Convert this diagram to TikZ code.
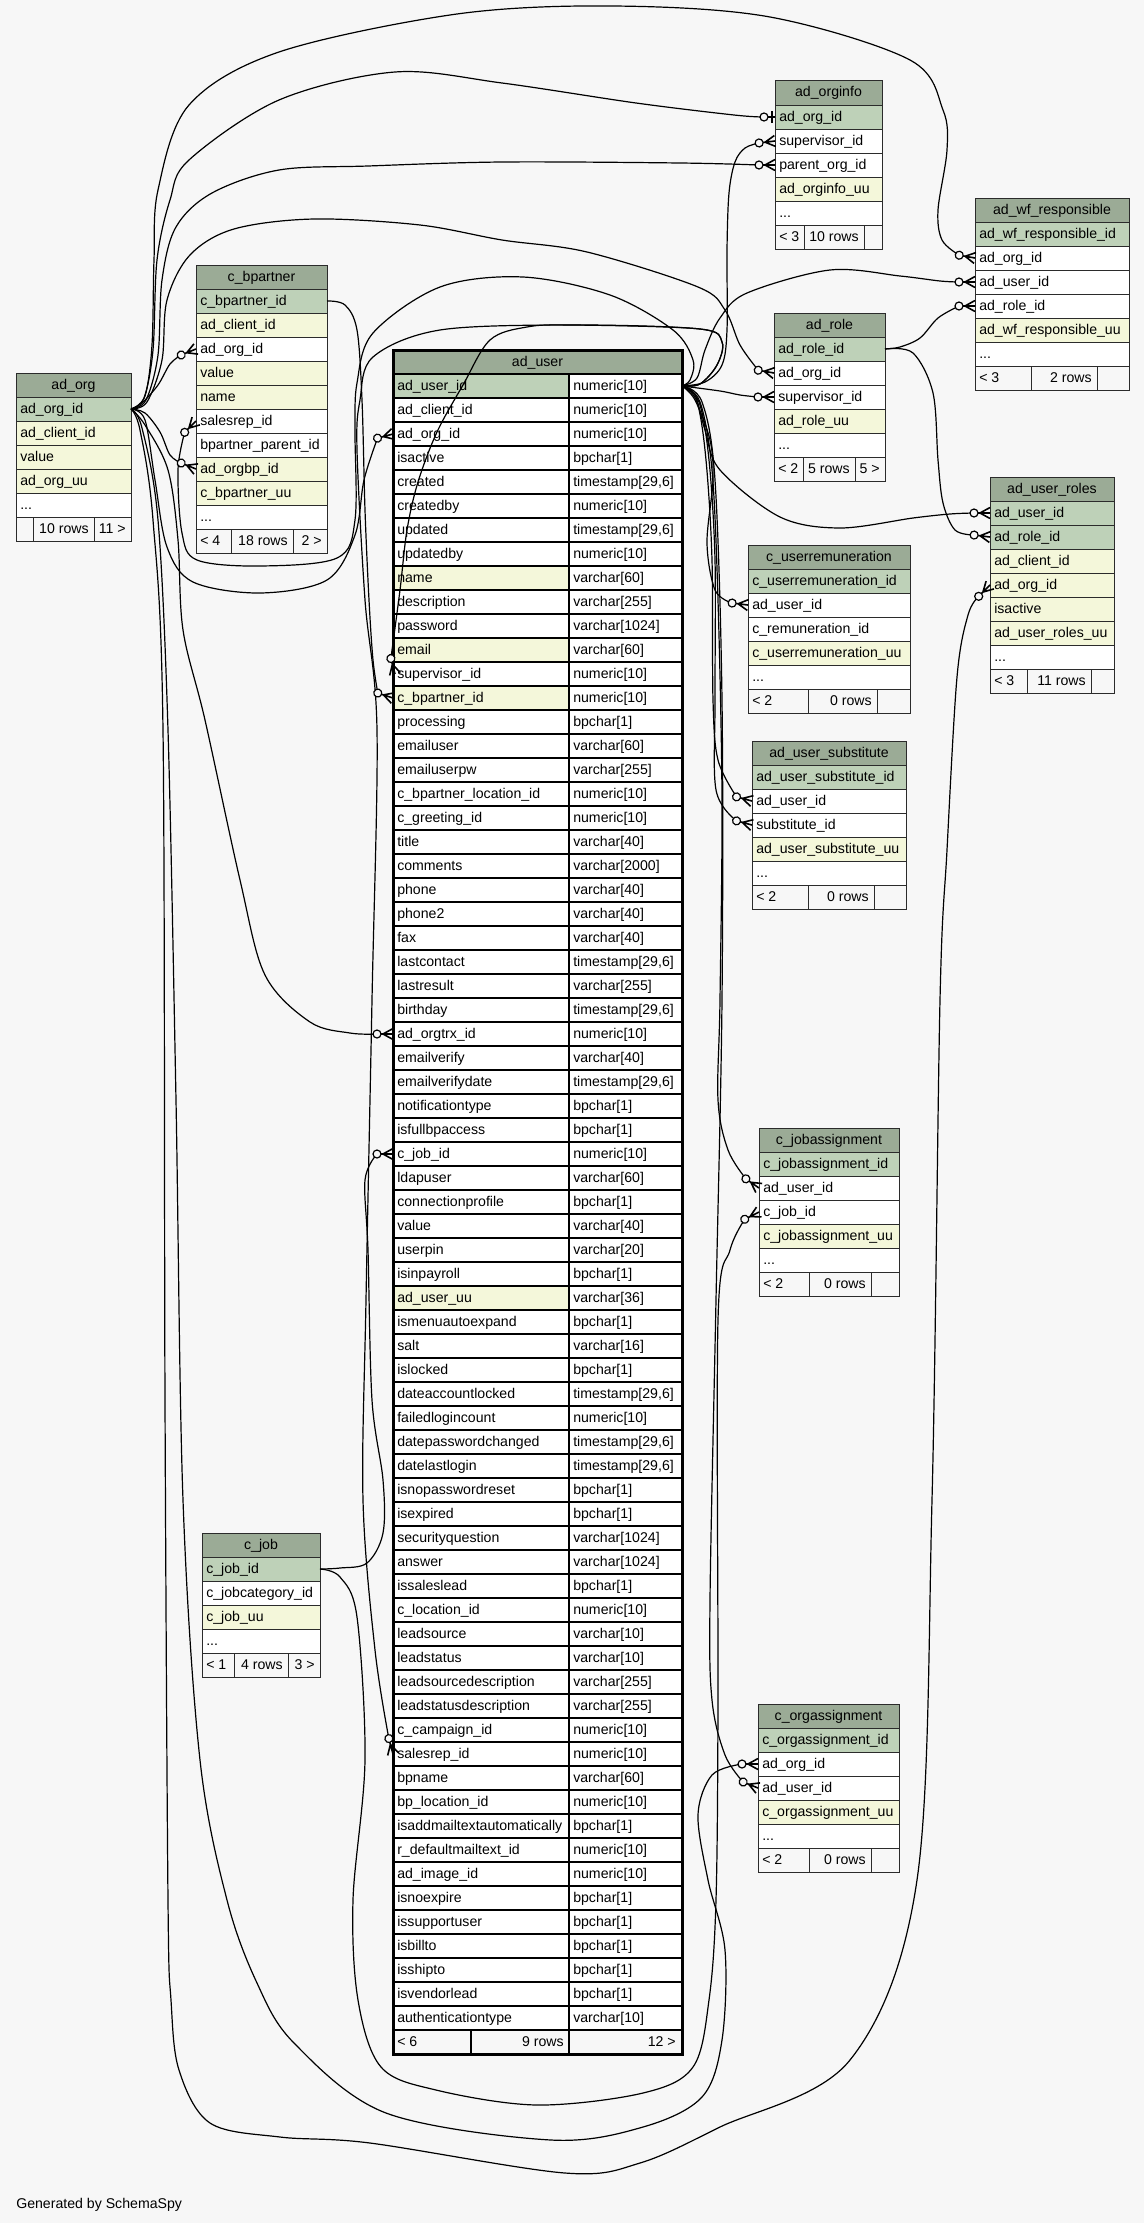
\documentclass[tikz,border=0pt]{standalone}
\usepackage{fontspec}
\setmainfont{Liberation Sans}
\definecolor{hdrc}{HTML}{9BAB96}
\definecolor{pkc}{HTML}{BED1B8}
\definecolor{idxc}{HTML}{F4F7DA}
\definecolor{bgc}{HTML}{F7F7F7}
\definecolor{linec}{HTML}{2B2B2B}
\newcommand\tblfont{\fontsize{10.6}{12}\selectfont}
\newcommand\tab[5]{\def\TA{#2}\def\TB{#3}\def\TY{#4}%
  \filldraw[cell,fill=hdrc] (#2,#4) rectangle (#3,#4+24);
  \node[ht] (#1-h) at ({(#2+#3)/2},#4+16) {#5};}
\newcommand\trow[4]{%
  \filldraw[cell,fill=#3] (\TA,\TY+24*#2) rectangle (\TB,\TY+24*#2+24);
  \node[rt] (#1-#2) at (\TA+4,\TY+24*#2+16) {#4};}
\newcommand\tfoot[7]{%
  \filldraw[cell,fill=bgc] (\TA,\TY+24*#2) rectangle (#3,\TY+24*#2+24);
  \filldraw[cell,fill=bgc] (#3,\TY+24*#2) rectangle (#4,\TY+24*#2+24);
  \filldraw[cell,fill=bgc] (#4,\TY+24*#2) rectangle (\TB,\TY+24*#2+24);
  \node[rt] (#1-fl) at (\TA+4,\TY+24*#2+16) {#5};
  \node[rt,anchor=base east] (#1-fm) at (#4-5,\TY+24*#2+16) {#6};
  \node[rt,anchor=base east] (#1-fr) at (\TB-5,\TY+24*#2+16) {#7};}
\newcommand\urow[4]{%
  \filldraw[ucell,fill=#4] (393,374+24*#1) rectangle (569,398+24*#1);
  \filldraw[ucell,fill=white] (569,374+24*#1) rectangle (682,398+24*#1);
  \node[rt] (un-#1) at (397,390+24*#1) {#2};
  \node[rt] (ut-#1) at (573,390+24*#1) {#3};}
\newcommand\crowA[4]{\begin{scope}[shift={(#2,#3)},rotate=#4]\coordinate (#1) at (-16,0);\end{scope}}
\newcommand\crowB[4]{\begin{scope}[shift={(#2,#3)},rotate=#4]
  \draw[crowline] (-10,0)--(0,-5.5) (-10,0)--(0,0) (-10,0)--(0,5.5) (-12,0)--(-10,0);
  \filldraw[edge,fill=bgc] (-16,0) circle (4);\end{scope}}
\newcommand\crowlist{%
 \crow{k1}{196}{349}{22}
 \crow{k2}{196}{469}{-22}
 \crow{k3}{393}{434}{15}
 \crow{k4}{393}{1034}{0}
 \crow{k5}{758}{1764}{0}
 \crow{k6}{990}{585}{45}
 \crow{k8}{775}{165}{0}
 \crow{k9}{975}{258}{-10}
 \crow{k10}{774}{373}{-10}
 \crow{k11}{196}{421}{45}
 \crow{k12}{393}{1754}{-75}
 \crow{k13}{395}{674}{-75}
 \crow{k14}{775}{141}{7}
 \crow{k15}{393}{698}{-18}
 \crow{k16}{975}{282}{0}
 \crow{k17}{774}{397}{0}
 \crow{k18}{990}{513}{0}
 \crow{k19}{748}{605}{-7}
 \crow{k20}{752}{801}{-15}
 \crow{k21}{752}{825}{-15}
 \crow{k22}{759}{1188}{-35}
 \crow{k23}{758}{1788}{-22}
 \crow{k24}{975}{306}{0}
 \crow{k25}{990}{537}{-7}
 \crow{k26}{393}{1154}{0}
 \crow{k27}{759}{1212}{27}
}
\begin{document}
\begin{tikzpicture}[x=0.75pt,y=-0.75pt,
  cell/.style={draw=linec,line width=0.75pt},
  ucell/.style={draw=black,line width=1pt},
  rt/.style={anchor=base west,inner sep=0pt,font=\tblfont,text=black},
  ht/.style={anchor=base,inner sep=0pt,font=\tblfont,text=black},
  edge/.style={draw=black,line width=0.9pt},
  crowline/.style={draw=black,line width=1.2pt},
  sm/.style={smooth,tension=0.55}]
\fill[bgc] (0,0) rectangle (1144,2223);
\useasboundingbox (0,0) rectangle (1144,2223);

% ad_org
\tab{adorg}{16}{131}{373}{ad\_org}
\trow{adorg}{1}{pkc}{ad\_org\_id}
\trow{adorg}{2}{idxc}{ad\_client\_id}
\trow{adorg}{3}{idxc}{value}
\trow{adorg}{4}{idxc}{ad\_org\_uu}
\trow{adorg}{5}{white}{...}
\tfoot{adorg}{6}{33}{94}{}{10 rows}{11 >}

% c_bpartner
\tab{bp}{196}{327}{265}{c\_bpartner}
\trow{bp}{1}{pkc}{c\_bpartner\_id}
\trow{bp}{2}{idxc}{ad\_client\_id}
\trow{bp}{3}{white}{ad\_org\_id}
\trow{bp}{4}{idxc}{value}
\trow{bp}{5}{idxc}{name}
\trow{bp}{6}{white}{salesrep\_id}
\trow{bp}{7}{white}{bpartner\_parent\_id}
\trow{bp}{8}{idxc}{ad\_orgbp\_id}
\trow{bp}{9}{idxc}{c\_bpartner\_uu}
\trow{bp}{10}{white}{...}
\tfoot{bp}{11}{231}{293}{< 4}{18 rows}{2 >}

% ad_orginfo
\tab{oi}{775}{882}{81}{ad\_orginfo}
\trow{oi}{1}{pkc}{ad\_org\_id}
\trow{oi}{2}{white}{supervisor\_id}
\trow{oi}{3}{white}{parent\_org\_id}
\trow{oi}{4}{idxc}{ad\_orginfo\_uu}
\trow{oi}{5}{white}{...}
\tfoot{oi}{6}{804}{864}{< 3}{10 rows}{}

% ad_wf_responsible
\tab{wf}{975}{1129}{198}{ad\_wf\_responsible}
\trow{wf}{1}{pkc}{ad\_wf\_responsible\_id}
\trow{wf}{2}{white}{ad\_org\_id}
\trow{wf}{3}{white}{ad\_user\_id}
\trow{wf}{4}{white}{ad\_role\_id}
\trow{wf}{5}{idxc}{ad\_wf\_responsible\_uu}
\trow{wf}{6}{white}{...}
\tfoot{wf}{7}{1031}{1097}{< 3}{2 rows}{}

% ad_role
\tab{role}{774}{885}{313}{ad\_role}
\trow{role}{1}{pkc}{ad\_role\_id}
\trow{role}{2}{white}{ad\_org\_id}
\trow{role}{3}{white}{supervisor\_id}
\trow{role}{4}{idxc}{ad\_role\_uu}
\trow{role}{5}{white}{...}
\tfoot{role}{6}{803}{855}{< 2}{5 rows}{5 >}

% ad_user_roles
\tab{ur}{990}{1114}{477}{ad\_user\_roles}
\trow{ur}{1}{pkc}{ad\_user\_id}
\trow{ur}{2}{pkc}{ad\_role\_id}
\trow{ur}{3}{idxc}{ad\_client\_id}
\trow{ur}{4}{idxc}{ad\_org\_id}
\trow{ur}{5}{idxc}{isactive}
\trow{ur}{6}{idxc}{ad\_user\_roles\_uu}
\trow{ur}{7}{white}{...}
\tfoot{ur}{8}{1027}{1091}{< 3}{11 rows}{}

% c_userremuneration
\tab{rem}{748}{910}{545}{c\_userremuneration}
\trow{rem}{1}{pkc}{c\_userremuneration\_id}
\trow{rem}{2}{white}{ad\_user\_id}
\trow{rem}{3}{white}{c\_remuneration\_id}
\trow{rem}{4}{idxc}{c\_userremuneration\_uu}
\trow{rem}{5}{white}{...}
\tfoot{rem}{6}{808}{877}{< 2}{0 rows}{}

% ad_user_substitute
\tab{sub}{752}{906}{741}{ad\_user\_substitute}
\trow{sub}{1}{pkc}{ad\_user\_substitute\_id}
\trow{sub}{2}{white}{ad\_user\_id}
\trow{sub}{3}{white}{substitute\_id}
\trow{sub}{4}{idxc}{ad\_user\_substitute\_uu}
\trow{sub}{5}{white}{...}
\tfoot{sub}{6}{808}{874}{< 2}{0 rows}{}

% c_jobassignment
\tab{ja}{759}{899}{1128}{c\_jobassignment}
\trow{ja}{1}{pkc}{c\_jobassignment\_id}
\trow{ja}{2}{white}{ad\_user\_id}
\trow{ja}{3}{white}{c\_job\_id}
\trow{ja}{4}{idxc}{c\_jobassignment\_uu}
\trow{ja}{5}{white}{...}
\tfoot{ja}{6}{809}{871}{< 2}{0 rows}{}

% c_orgassignment
\tab{oa}{758}{899}{1704}{c\_orgassignment}
\trow{oa}{1}{pkc}{c\_orgassignment\_id}
\trow{oa}{2}{white}{ad\_org\_id}
\trow{oa}{3}{white}{ad\_user\_id}
\trow{oa}{4}{idxc}{c\_orgassignment\_uu}
\trow{oa}{5}{white}{...}
\tfoot{oa}{6}{809}{871}{< 2}{0 rows}{}

% c_job
\tab{job}{202}{320}{1533}{c\_job}
\trow{job}{1}{pkc}{c\_job\_id}
\trow{job}{2}{white}{c\_jobcategory\_id}
\trow{job}{3}{idxc}{c\_job\_uu}
\trow{job}{4}{white}{...}
\tfoot{job}{5}{234}{288}{< 1}{4 rows}{3 >}

% ad_user
\filldraw[ucell,fill=hdrc] (393,350) rectangle (682,374);
\node[ht] (user-h) at (537.5,366) {ad\_user};
\urow{0}{ad\_user\_id}{numeric[10]}{pkc}
\urow{1}{ad\_client\_id}{numeric[10]}{white}
\urow{2}{ad\_org\_id}{numeric[10]}{white}
\urow{3}{isactive}{bpchar[1]}{white}
\urow{4}{created}{timestamp[29,6]}{white}
\urow{5}{createdby}{numeric[10]}{white}
\urow{6}{updated}{timestamp[29,6]}{white}
\urow{7}{updatedby}{numeric[10]}{white}
\urow{8}{name}{varchar[60]}{idxc}
\urow{9}{description}{varchar[255]}{white}
\urow{10}{password}{varchar[1024]}{white}
\urow{11}{email}{varchar[60]}{idxc}
\urow{12}{supervisor\_id}{numeric[10]}{white}
\urow{13}{c\_bpartner\_id}{numeric[10]}{idxc}
\urow{14}{processing}{bpchar[1]}{white}
\urow{15}{emailuser}{varchar[60]}{white}
\urow{16}{emailuserpw}{varchar[255]}{white}
\urow{17}{c\_bpartner\_location\_id}{numeric[10]}{white}
\urow{18}{c\_greeting\_id}{numeric[10]}{white}
\urow{19}{title}{varchar[40]}{white}
\urow{20}{comments}{varchar[2000]}{white}
\urow{21}{phone}{varchar[40]}{white}
\urow{22}{phone2}{varchar[40]}{white}
\urow{23}{fax}{varchar[40]}{white}
\urow{24}{lastcontact}{timestamp[29,6]}{white}
\urow{25}{lastresult}{varchar[255]}{white}
\urow{26}{birthday}{timestamp[29,6]}{white}
\urow{27}{ad\_orgtrx\_id}{numeric[10]}{white}
\urow{28}{emailverify}{varchar[40]}{white}
\urow{29}{emailverifydate}{timestamp[29,6]}{white}
\urow{30}{notificationtype}{bpchar[1]}{white}
\urow{31}{isfullbpaccess}{bpchar[1]}{white}
\urow{32}{c\_job\_id}{numeric[10]}{white}
\urow{33}{ldapuser}{varchar[60]}{white}
\urow{34}{connectionprofile}{bpchar[1]}{white}
\urow{35}{value}{varchar[40]}{white}
\urow{36}{userpin}{varchar[20]}{white}
\urow{37}{isinpayroll}{bpchar[1]}{white}
\urow{38}{ad\_user\_uu}{varchar[36]}{idxc}
\urow{39}{ismenuautoexpand}{bpchar[1]}{white}
\urow{40}{salt}{varchar[16]}{white}
\urow{41}{islocked}{bpchar[1]}{white}
\urow{42}{dateaccountlocked}{timestamp[29,6]}{white}
\urow{43}{failedlogincount}{numeric[10]}{white}
\urow{44}{datepasswordchanged}{timestamp[29,6]}{white}
\urow{45}{datelastlogin}{timestamp[29,6]}{white}
\urow{46}{isnopasswordreset}{bpchar[1]}{white}
\urow{47}{isexpired}{bpchar[1]}{white}
\urow{48}{securityquestion}{varchar[1024]}{white}
\urow{49}{answer}{varchar[1024]}{white}
\urow{50}{issaleslead}{bpchar[1]}{white}
\urow{51}{c\_location\_id}{numeric[10]}{white}
\urow{52}{leadsource}{varchar[10]}{white}
\urow{53}{leadstatus}{varchar[10]}{white}
\urow{54}{leadsourcedescription}{varchar[255]}{white}
\urow{55}{leadstatusdescription}{varchar[255]}{white}
\urow{56}{c\_campaign\_id}{numeric[10]}{white}
\urow{57}{salesrep\_id}{numeric[10]}{white}
\urow{58}{bpname}{varchar[60]}{white}
\urow{59}{bp\_location\_id}{numeric[10]}{white}
\urow{60}{isaddmailtextautomatically}{bpchar[1]}{white}
\urow{61}{r\_defaultmailtext\_id}{numeric[10]}{white}
\urow{62}{ad\_image\_id}{numeric[10]}{white}
\urow{63}{isnoexpire}{bpchar[1]}{white}
\urow{64}{issupportuser}{bpchar[1]}{white}
\urow{65}{isbillto}{bpchar[1]}{white}
\urow{66}{isshipto}{bpchar[1]}{white}
\urow{67}{isvendorlead}{bpchar[1]}{white}
\urow{68}{authenticationtype}{varchar[10]}{white}
\filldraw[ucell,fill=bgc] (393,2030) rectangle (471,2054);
\filldraw[ucell,fill=bgc] (471,2030) rectangle (569,2054);
\filldraw[ucell,fill=bgc] (569,2030) rectangle (682,2054);
\node[rt] (user-fl) at (397,2046) {< 6};
\node[rt,anchor=base east] (user-fm) at (564,2046) {9 rows};
\node[rt,anchor=base east] (user-fr) at (676,2046) {12 >};
\draw[black,line width=2.25pt] (393,350) rectangle (682,2054);

% ports
\coordinate (Porg) at (131,409);
\coordinate (Puser) at (682,386);
\coordinate (Pbp) at (327,301);
\coordinate (Prole) at (885,349);
\coordinate (Pjob) at (320,1569);
\coordinate (k7) at (764,117);
\let\crow\crowA \crowlist

% connectors
\draw[edge] plot[sm] coordinates {(Porg) (142,403) (158,385) (170,364) (k1)};
\draw[edge] plot[sm] coordinates {(Porg) (145,413) (160,432) (170,455) (k2)};
\draw[edge] plot[sm] coordinates {(Porg) (145,420) (155,480) (167,547) (193,582) (260,593) (327,580) (355,535) (364,480) (k3)};
\draw[edge] plot[sm] coordinates {(Porg) (145,425) (168,470) (178,540) (183,630) (205,720) (240,880) (265,975) (310,1022) (350,1033) (k4)};
\draw[edge] plot[sm] coordinates {(Porg) (142,428) (158,520) (168,730) (176,1100) (183,1500) (200,1760) (227,1900) (257,1983) (294,2043) (386,2113) (551,2140) (643,2127) (702,2097) (722,2040) (725,1950) (708,1880) (698,1815) (712,1775) (k5)};
\draw[edge] plot[sm] coordinates {(Porg) (140,430) (153,520) (163,730) (165,1400) (168,1900) (171,2000) (179,2070) (210,2123) (280,2137) (370,2143) (565,2173) (640,2163) (720,2127) (850,2060) (917,1880) (932,1500) (940,1000) (947,850) (957,677) (968,615) (k6)};
\draw[edge] plot[sm] coordinates {(Porg) (144,398) (153,350) (157,260) (170,200) (189,160) (279,100) (395,72) (502,83) (636,103) (734,115) (k7)};
\draw[edge] plot[sm] coordinates {(Porg) (146,400) (158,355) (162,280) (176,227) (212,193) (279,170) (368,166) (502,162) (680,163) (k8)};
\draw[edge] plot[sm] coordinates {(Porg) (145,396) (152,345) (154,260) (158,190) (189,105) (279,52) (457,14) (613,6) (770,17) (910,60) (943,110) (947,150) (938,210) (942,240) (k9)};
\draw[edge] plot[sm] coordinates {(Porg) (147,402) (162,360) (167,300) (190,255) (234,229) (314,219) (420,225) (502,240) (587,252) (698,287) (725,310) (740,345) (k10)};
\draw[edge] plot[sm] coordinates {(Puser) (690,380) (693,360) (673,330) (610,295) (523,277) (440,287) (373,333) (357,383) (355,430) (355,520) (337,558) (260,566) (197,560) (182,533) (178,470) (k11)};
\draw[edge] plot[sm] coordinates {(Puser) (700,384) (717,365) (722,342) (700,329) (573,325) (440,330) (373,357) (360,400) (357,450) (365,600) (377,730) (372,1000) (366,1300) (363,1500) (375,1650) (k12)};
\draw[edge] plot[sm] coordinates {(Puser) (700,384) (717,365) (722,342) (700,329) (573,325) (527,327) (490,340) (463,385) (437,432) (418,482) (407,530) (400,590) (k13)};
\draw[edge] plot[sm] coordinates {(Puser) (705,382) (722,365) (727,330) (727,250) (729,193) (735,162) (745,148) (k14)};
\draw[edge] plot[sm] coordinates {(Pbp) (345,305) (357,330) (362,400) (365,510) (369,600) (373,660) (k15)};
\draw[edge] plot[sm] coordinates {(Puser) (697,378) (705,350) (720,318) (747,293) (830,270) (900,276) (940,281) (k16)};
\draw[edge] plot[sm] coordinates {(Puser) (720,391) (740,395) (k17)};
\draw[edge] plot[sm] coordinates {(Puser) (695,395) (705,430) (720,470) (780,517) (840,528) (913,518) (950,514) (k18)};
\draw[edge] plot[sm] coordinates {(Puser) (695,400) (710,440) (713,480) (707,543) (715,590) (k19)};
\draw[edge] plot[sm] coordinates {(Puser) (697,402) (706,460) (712,560) (713,700) (718,760) (k20)};
\draw[edge] plot[sm] coordinates {(Puser) (699,402) (709,460) (715,560) (715,700) (716,790) (k21)};
\draw[edge] plot[sm] coordinates {(Puser) (700,402) (712,470) (718,600) (722,800) (720,1000) (718,1100) (728,1150) (k22)};
\draw[edge] plot[sm] coordinates {(Puser) (702,402) (715,480) (722,700) (722,1000) (716,1300) (710,1600) (712,1700) (725,1755) (k23)};
\draw[edge] plot[sm] coordinates {(Prole) (900,347) (920,338) (938,318) (k24)};
\draw[edge] plot[sm] coordinates {(Prole) (913,353) (933,393) (938,460) (943,503) (955,530) (k25)};
\draw[edge] plot[sm] coordinates {(Pjob) (340,1568) (367,1563) (383,1533) (383,1480) (372,1400) (368,1250) (365,1180) (k26)};
\draw[edge] plot[sm] coordinates {(Pjob) (340,1577) (357,1617) (365,1760) (353,1900) (358,2000) (381,2067) (436,2090) (537,2105) (643,2093) (693,2067) (709,2000) (716,1900) (718,1700) (718,1320) (730,1250) (k27)};

% arrow ends
\let\crow\crowB \crowlist
\draw[edge] (768,117) -- (775,117);
\draw[black,line width=1.8pt] (772,111) -- (772,123);
\filldraw[edge,fill=bgc] (k7) circle (4);

\node[rt] (gen) at (16,2208) {Generated by SchemaSpy};
\end{tikzpicture}
\end{document}
